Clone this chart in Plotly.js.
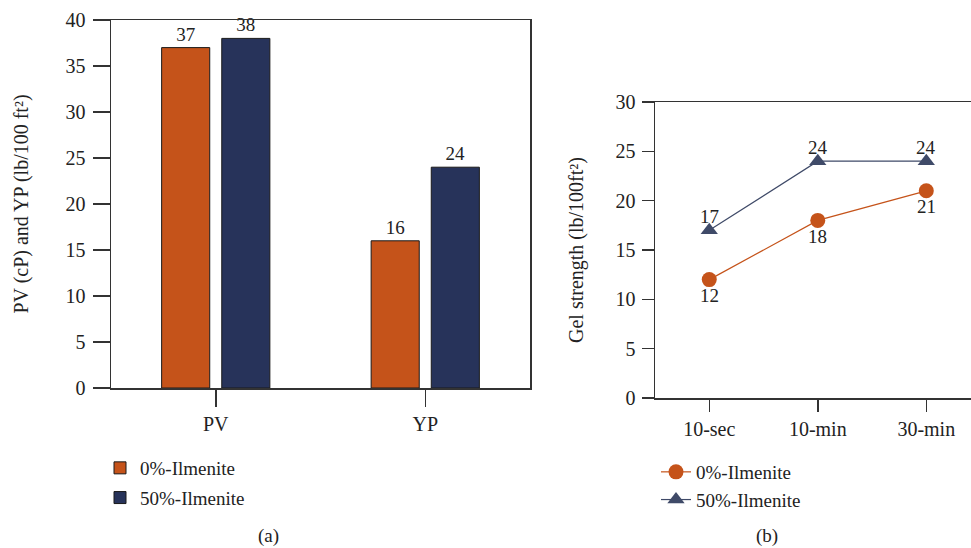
<!DOCTYPE html>
<html>
<head>
<meta charset="utf-8">
<script src="https://cdn.plot.ly/plotly-3.0.1.min.js"></script>
<style>html,body{margin:0;padding:0;background:#fff;}#chart{width:971px;height:548px;}</style>
</head>
<body>
<div id="chart"></div>
<script>
// Panel (a): bar chart
const barCategories = ['PV', 'YP'];
const bar0 = [37, 16];
const bar50 = [38, 24];
// Panel (b): gel strength
const gelCategories = ['10-sec', '10-min', '30-min'];
const gel0 = [12, 18, 21];
const gel50 = [17, 24, 24];
const seriesNames = ['0%-Ilmenite', '50%-Ilmenite'];
const yTicksA = [0, 5, 10, 15, 20, 25, 30, 35, 40];
const yTicksB = [0, 5, 10, 15, 20, 25, 30];

const FONT = 'Liberation Serif, DejaVu Serif, serif';
const TXT = '#222';
const ORANGE = '#C5531A';
const NAVY = '#27335A';
const SLATE = '#3F4A68';
const AX = '#333';

const traces = [
  {type:'bar', x:barCategories, y:bar0, name:seriesNames[0], xaxis:'x', yaxis:'y',
   marker:{color:ORANGE, line:{color:'#1a1a1a', width:1}},
   text:bar0.map(String), textposition:'outside', cliponaxis:false,
   textfont:{family:FONT, size:19, color:TXT}, legend:'legend', legendgroup:'a0'},
  {type:'bar', x:barCategories, y:bar50, name:seriesNames[1], xaxis:'x', yaxis:'y',
   marker:{color:NAVY, line:{color:'#1a1a1a', width:1}},
   text:bar50.map(String), textposition:'outside', cliponaxis:false,
   textfont:{family:FONT, size:19, color:TXT}, legend:'legend', legendgroup:'a1'},
  {type:'scatter', mode:'lines+markers', x:gelCategories, y:gel0, name:seriesNames[0],
   xaxis:'x2', yaxis:'y2', line:{color:ORANGE, width:1.2},
   marker:{symbol:'circle', size:15, color:ORANGE}, cliponaxis:false,
   legend:'legend2', legendgroup:'b0'},
  {type:'scatter', mode:'lines+markers', x:gelCategories, y:gel50, name:seriesNames[1],
   xaxis:'x2', yaxis:'y2', line:{color:SLATE, width:1.2},
   marker:{symbol:'triangle-up', size:15, color:SLATE}, cliponaxis:false,
   legend:'legend2', legendgroup:'b1'}
];

// value labels for the line chart, built from the data arrays
const pointLabels = [];
gelCategories.forEach((c, i) => {
  pointLabels.push({xref:'x2', yref:'y2', x:c, y:gel0[i], text:String(gel0[i]), showarrow:false,
    yshift:-16, font:{family:FONT, size:19, color:TXT}});
  pointLabels.push({xref:'x2', yref:'y2', x:c, y:gel50[i], text:String(gel50[i]), showarrow:false,
    yshift:14, font:{family:FONT, size:19, color:TXT}});
});

const axisFont = {family:FONT, size:20, color:TXT};

const layout = {
  width:971, height:548,
  margin:{l:0, r:0, t:0, b:0},
  paper_bgcolor:'#fff', plot_bgcolor:'#fff',
  font:{family:FONT, color:TXT},
  barmode:'group', bargap:0.426, bargroupgap:0.2,
  xaxis:{domain:[111/971, 530/971], anchor:'y', type:'category', range:[-0.5, 1.5],
    showline:true, mirror:true, linecolor:AX, linewidth:1.5, showgrid:false, zeroline:false,
    ticks:'outside', ticklen:17, tickcolor:AX, tickwidth:1.5, tickfont:axisFont},
  yaxis:{domain:[(548-388)/548, (548-20)/548], anchor:'x', range:[0, 40],
    tickvals:yTicksA, showline:true, mirror:true, linecolor:AX, linewidth:1.5,
    showgrid:false, zeroline:false, ticks:'outside', ticklen:17, tickcolor:AX, tickwidth:1.5,
    tickfont:axisFont, ticklabelstandoff:3,
    title:{text:'PV (cP) and YP (lb/100 ft²)', font:{family:FONT, size:20, color:TXT}, standoff:31}},
  xaxis2:{domain:[655/971, 1], anchor:'y2', type:'category', range:[-0.5, 2.412],
    showline:true, mirror:true, linecolor:AX, linewidth:1.5, showgrid:false, zeroline:false,
    ticks:'outside', ticklen:12, tickcolor:AX, tickwidth:1.5, tickfont:axisFont},
  yaxis2:{domain:[(548-398)/548, (548-102)/548], anchor:'x2', range:[0, 30],
    tickvals:yTicksB, showline:true, linecolor:AX, linewidth:1.5,
    showgrid:false, zeroline:false, ticks:'outside', ticklen:12, tickcolor:AX, tickwidth:1.5,
    tickfont:axisFont, ticklabelstandoff:2,
    title:{text:'Gel strength (lb/100ft²)', font:{family:FONT, size:20, color:TXT}, standoff:26}},
  legend:{x:100/971, xanchor:'left', y:1-(449/548), yanchor:'top', orientation:'v',
    font:{family:FONT, size:19, color:TXT}, tracegroupgap:2, bgcolor:'rgba(0,0,0,0)'},
  legend2:{x:656/971, xanchor:'left', y:1-(453/548), yanchor:'top', orientation:'v',
    font:{family:FONT, size:19, color:TXT}, tracegroupgap:0, bgcolor:'rgba(0,0,0,0)'},
  annotations:pointLabels.concat([
    {text:'(a)', xref:'paper', yref:'paper', x:268/971, y:1-536/548, xanchor:'center', yanchor:'middle',
     showarrow:false, font:{family:FONT, size:19, color:TXT}},
    {text:'(b)', xref:'paper', yref:'paper', x:767/971, y:1-536/548, xanchor:'center', yanchor:'middle',
     showarrow:false, font:{family:FONT, size:19, color:TXT}}
  ])
};

Plotly.newPlot('chart', traces, layout, {displayModeBar:false, staticPlot:true});
</script>
</body>
</html>
